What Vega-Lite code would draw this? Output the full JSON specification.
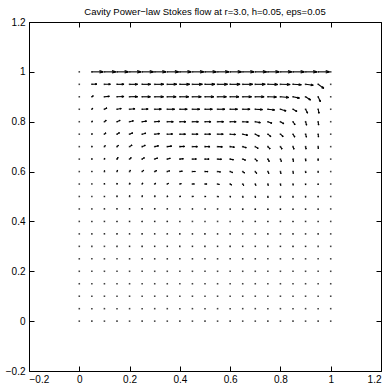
{
"$schema": "https://vega.github.io/schema/vega-lite/v6.json",
"width": 352, "height": 349,
"autosize": {"type": "none"},
"padding": {"left": 29, "top": 22, "right": 5, "bottom": 14},
"title": {"text": "Cavity Power\u2212law Stokes flow at r=3.0, h=0.05, eps=0.05", "fontSize": 9.5, "fontWeight": "normal", "font": "Liberation Sans", "offset": 4, "dy": 3, "color": "black"},
"config": {
 "view": {"stroke": "black", "strokeWidth": 1},
 "axis": {"grid": false, "domain": false, "tickColor": "black", "tickSize": -5, "labelColor": "black", "labelFont": "Liberation Sans", "labelFontSize": 10, "values": [-0.2, 0, 0.2, 0.4, 0.6, 0.8, 1, 1.2], "format": "~g", "title": null},
 "axisBottom": {"labelPadding": 8},
 "axisLeft": {"labelPadding": 9}
},
"data": {"values": [
{"x":0,"y":1,"u":0,"v":0},{"x":0.05,"y":1,"u":1,"v":0},{"x":0.1,"y":1,"u":1,"v":0},{"x":0.15,"y":1,"u":1,"v":0},{"x":0.2,"y":1,"u":1,"v":0},{"x":0.25,"y":1,"u":1,"v":0},{"x":0.3,"y":1,"u":1,"v":0},{"x":0.35,"y":1,"u":1,"v":0},{"x":0.4,"y":1,"u":1,"v":0},{"x":0.45,"y":1,"u":1,"v":0},{"x":0.5,"y":1,"u":1,"v":0},{"x":0.55,"y":1,"u":1,"v":0},{"x":0.6,"y":1,"u":1,"v":0},{"x":0.65,"y":1,"u":1,"v":0},{"x":0.7,"y":1,"u":1,"v":0},{"x":0.75,"y":1,"u":1,"v":0},{"x":0.8,"y":1,"u":1,"v":0},{"x":0.85,"y":1,"u":1,"v":0},{"x":0.9,"y":1,"u":1,"v":0},{"x":0.95,"y":1,"u":1,"v":0},{"x":1,"y":1,"u":0,"v":0},
{"x":0,"y":0.95,"u":0,"v":0},{"x":0.05,"y":0.95,"u":0.44,"v":0.02},{"x":0.1,"y":0.95,"u":0.53,"v":0.01},{"x":0.15,"y":0.95,"u":0.62,"v":0},{"x":0.2,"y":0.95,"u":0.71,"v":0},{"x":0.25,"y":0.95,"u":0.75,"v":0},{"x":0.3,"y":0.95,"u":0.8,"v":0},{"x":0.35,"y":0.95,"u":0.84,"v":0},{"x":0.4,"y":0.95,"u":0.87,"v":0},{"x":0.45,"y":0.95,"u":0.88,"v":0},{"x":0.5,"y":0.95,"u":0.88,"v":0},{"x":0.55,"y":0.95,"u":0.88,"v":0},{"x":0.6,"y":0.95,"u":0.88,"v":0},{"x":0.65,"y":0.95,"u":0.88,"v":0},{"x":0.7,"y":0.95,"u":0.88,"v":0},{"x":0.75,"y":0.95,"u":0.88,"v":-0.01},{"x":0.8,"y":0.95,"u":0.86,"v":-0.02},{"x":0.85,"y":0.95,"u":0.74,"v":-0.04},{"x":0.9,"y":0.95,"u":0.68,"v":-0.08},{"x":0.95,"y":0.95,"u":0.5,"v":-0.36},{"x":1,"y":0.95,"u":0,"v":0},
{"x":0,"y":0.9,"u":0,"v":0},{"x":0.05,"y":0.9,"u":0.13,"v":0.1},{"x":0.1,"y":0.9,"u":0.44,"v":0.04},{"x":0.15,"y":0.9,"u":0.62,"v":0.02},{"x":0.2,"y":0.9,"u":0.71,"v":0.01},{"x":0.25,"y":0.9,"u":0.73,"v":0},{"x":0.3,"y":0.9,"u":0.78,"v":0},{"x":0.35,"y":0.9,"u":0.78,"v":0},{"x":0.4,"y":0.9,"u":0.78,"v":0},{"x":0.45,"y":0.9,"u":0.78,"v":0},{"x":0.5,"y":0.9,"u":0.78,"v":0},{"x":0.55,"y":0.9,"u":0.78,"v":0},{"x":0.6,"y":0.9,"u":0.78,"v":0},{"x":0.65,"y":0.9,"u":0.78,"v":0},{"x":0.7,"y":0.9,"u":0.78,"v":0},{"x":0.75,"y":0.9,"u":0.76,"v":-0.02},{"x":0.8,"y":0.9,"u":0.74,"v":-0.06},{"x":0.85,"y":0.9,"u":0.57,"v":-0.12},{"x":0.9,"y":0.9,"u":0.44,"v":-0.29},{"x":0.95,"y":0.9,"u":0.2,"v":-0.44},{"x":1,"y":0.9,"u":0,"v":0},
{"x":0,"y":0.85,"u":0,"v":0},{"x":0.05,"y":0.85,"u":0.08,"v":0.1},{"x":0.1,"y":0.85,"u":0.22,"v":0.12},{"x":0.15,"y":0.85,"u":0.38,"v":0.07},{"x":0.2,"y":0.85,"u":0.48,"v":0.04},{"x":0.25,"y":0.85,"u":0.53,"v":0.02},{"x":0.3,"y":0.85,"u":0.58,"v":0.01},{"x":0.35,"y":0.85,"u":0.65,"v":0},{"x":0.4,"y":0.85,"u":0.65,"v":0},{"x":0.45,"y":0.85,"u":0.65,"v":0},{"x":0.5,"y":0.85,"u":0.65,"v":0},{"x":0.55,"y":0.85,"u":0.65,"v":0},{"x":0.6,"y":0.85,"u":0.65,"v":0},{"x":0.65,"y":0.85,"u":0.65,"v":0},{"x":0.7,"y":0.85,"u":0.64,"v":-0.03},{"x":0.75,"y":0.85,"u":0.6,"v":-0.07},{"x":0.8,"y":0.85,"u":0.5,"v":-0.15},{"x":0.85,"y":0.85,"u":0.35,"v":-0.2},{"x":0.9,"y":0.85,"u":0.18,"v":-0.35},{"x":0.95,"y":0.85,"u":0.08,"v":-0.36},{"x":1,"y":0.85,"u":0,"v":0},
{"x":0,"y":0.8,"u":0,"v":0},{"x":0.05,"y":0.8,"u":0.05,"v":0.07},{"x":0.1,"y":0.8,"u":0.16,"v":0.13},{"x":0.15,"y":0.8,"u":0.28,"v":0.12},{"x":0.2,"y":0.8,"u":0.34,"v":0.08},{"x":0.25,"y":0.8,"u":0.39,"v":0.05},{"x":0.3,"y":0.8,"u":0.44,"v":0.03},{"x":0.35,"y":0.8,"u":0.53,"v":0},{"x":0.4,"y":0.8,"u":0.53,"v":0},{"x":0.45,"y":0.8,"u":0.53,"v":0},{"x":0.5,"y":0.8,"u":0.53,"v":0},{"x":0.55,"y":0.8,"u":0.53,"v":0},{"x":0.6,"y":0.8,"u":0.53,"v":0},{"x":0.65,"y":0.8,"u":0.5,"v":-0.03},{"x":0.7,"y":0.8,"u":0.45,"v":-0.08},{"x":0.75,"y":0.8,"u":0.36,"v":-0.14},{"x":0.8,"y":0.8,"u":0.3,"v":-0.18},{"x":0.85,"y":0.8,"u":0.18,"v":-0.27},{"x":0.9,"y":0.8,"u":0.09,"v":-0.31},{"x":0.95,"y":0.8,"u":0.04,"v":-0.3},{"x":1,"y":0.8,"u":0,"v":0},
{"x":0,"y":0.75,"u":0,"v":0},{"x":0.05,"y":0.75,"u":0.03,"v":0.06},{"x":0.1,"y":0.75,"u":0.13,"v":0.12},{"x":0.15,"y":0.75,"u":0.22,"v":0.14},{"x":0.2,"y":0.75,"u":0.28,"v":0.12},{"x":0.25,"y":0.75,"u":0.33,"v":0.09},{"x":0.3,"y":0.75,"u":0.42,"v":0.05},{"x":0.35,"y":0.75,"u":0.47,"v":0.02},{"x":0.4,"y":0.75,"u":0.5,"v":0},{"x":0.45,"y":0.75,"u":0.5,"v":0},{"x":0.5,"y":0.75,"u":0.5,"v":0},{"x":0.55,"y":0.75,"u":0.5,"v":0},{"x":0.6,"y":0.75,"u":0.48,"v":-0.03},{"x":0.65,"y":0.75,"u":0.44,"v":-0.09},{"x":0.7,"y":0.75,"u":0.36,"v":-0.18},{"x":0.75,"y":0.75,"u":0.27,"v":-0.22},{"x":0.8,"y":0.75,"u":0.24,"v":-0.22},{"x":0.85,"y":0.75,"u":0.16,"v":-0.26},{"x":0.9,"y":0.75,"u":0.08,"v":-0.27},{"x":0.95,"y":0.75,"u":0.03,"v":-0.26},{"x":1,"y":0.75,"u":0,"v":0},
{"x":0,"y":0.7,"u":0,"v":0},{"x":0.05,"y":0.7,"u":0.02,"v":0.05},{"x":0.1,"y":0.7,"u":0.08,"v":0.1},{"x":0.15,"y":0.7,"u":0.13,"v":0.12},{"x":0.2,"y":0.7,"u":0.22,"v":0.14},{"x":0.25,"y":0.7,"u":0.28,"v":0.12},{"x":0.3,"y":0.7,"u":0.34,"v":0.08},{"x":0.35,"y":0.7,"u":0.39,"v":0.05},{"x":0.4,"y":0.7,"u":0.42,"v":0.02},{"x":0.45,"y":0.7,"u":0.44,"v":0},{"x":0.5,"y":0.7,"u":0.44,"v":0},{"x":0.55,"y":0.7,"u":0.42,"v":-0.02},{"x":0.6,"y":0.7,"u":0.38,"v":-0.05},{"x":0.65,"y":0.7,"u":0.32,"v":-0.1},{"x":0.7,"y":0.7,"u":0.26,"v":-0.16},{"x":0.75,"y":0.7,"u":0.2,"v":-0.2},{"x":0.8,"y":0.7,"u":0.14,"v":-0.22},{"x":0.85,"y":0.7,"u":0.09,"v":-0.23},{"x":0.9,"y":0.7,"u":0.05,"v":-0.22},{"x":0.95,"y":0.7,"u":0.02,"v":-0.18},{"x":1,"y":0.7,"u":0,"v":0},
{"x":0,"y":0.65,"u":0,"v":0},{"x":0.05,"y":0.65,"u":0.01,"v":0.04},{"x":0.1,"y":0.65,"u":0.02,"v":0.09},{"x":0.15,"y":0.65,"u":0.1,"v":0.15},{"x":0.2,"y":0.65,"u":0.15,"v":0.14},{"x":0.25,"y":0.65,"u":0.2,"v":0.13},{"x":0.3,"y":0.65,"u":0.26,"v":0.1},{"x":0.35,"y":0.65,"u":0.27,"v":0.08},{"x":0.4,"y":0.65,"u":0.31,"v":0.04},{"x":0.45,"y":0.65,"u":0.35,"v":0.01},{"x":0.5,"y":0.65,"u":0.36,"v":0},{"x":0.55,"y":0.65,"u":0.35,"v":-0.02},{"x":0.6,"y":0.65,"u":0.3,"v":-0.06},{"x":0.65,"y":0.65,"u":0.25,"v":-0.1},{"x":0.7,"y":0.65,"u":0.18,"v":-0.18},{"x":0.75,"y":0.65,"u":0.13,"v":-0.22},{"x":0.8,"y":0.65,"u":0.09,"v":-0.22},{"x":0.85,"y":0.65,"u":0.04,"v":-0.22},{"x":0.9,"y":0.65,"u":0.02,"v":-0.18},{"x":0.95,"y":0.65,"u":0,"v":-0.13},{"x":1,"y":0.65,"u":0,"v":0},
{"x":0,"y":0.6,"u":0,"v":0},{"x":0.05,"y":0.6,"u":0,"v":0.03},{"x":0.1,"y":0.6,"u":0.01,"v":0.09},{"x":0.15,"y":0.6,"u":0.05,"v":0.13},{"x":0.2,"y":0.6,"u":0.08,"v":0.13},{"x":0.25,"y":0.6,"u":0.14,"v":0.12},{"x":0.3,"y":0.6,"u":0.17,"v":0.1},{"x":0.35,"y":0.6,"u":0.21,"v":0.07},{"x":0.4,"y":0.6,"u":0.22,"v":0.04},{"x":0.45,"y":0.6,"u":0.26,"v":0.01},{"x":0.5,"y":0.6,"u":0.27,"v":0},{"x":0.55,"y":0.6,"u":0.26,"v":-0.04},{"x":0.6,"y":0.6,"u":0.22,"v":-0.09},{"x":0.65,"y":0.6,"u":0.17,"v":-0.13},{"x":0.7,"y":0.6,"u":0.13,"v":-0.17},{"x":0.75,"y":0.6,"u":0.09,"v":-0.18},{"x":0.8,"y":0.6,"u":0.05,"v":-0.18},{"x":0.85,"y":0.6,"u":0.03,"v":-0.17},{"x":0.9,"y":0.6,"u":0.02,"v":-0.13},{"x":0.95,"y":0.6,"u":0,"v":-0.09},{"x":1,"y":0.6,"u":0,"v":0},
{"x":0,"y":0.55,"u":0,"v":0},{"x":0.05,"y":0.55,"u":0,"v":0.02},{"x":0.1,"y":0.55,"u":0,"v":0.06},{"x":0.15,"y":0.55,"u":0.02,"v":0.09},{"x":0.2,"y":0.55,"u":0.04,"v":0.1},{"x":0.25,"y":0.55,"u":0.06,"v":0.1},{"x":0.3,"y":0.55,"u":0.09,"v":0.08},{"x":0.35,"y":0.55,"u":0.12,"v":0.06},{"x":0.4,"y":0.55,"u":0.13,"v":0.04},{"x":0.45,"y":0.55,"u":0.17,"v":0.01},{"x":0.5,"y":0.55,"u":0.18,"v":0},{"x":0.55,"y":0.55,"u":0.16,"v":-0.04},{"x":0.6,"y":0.55,"u":0.13,"v":-0.09},{"x":0.65,"y":0.55,"u":0.09,"v":-0.13},{"x":0.7,"y":0.55,"u":0.06,"v":-0.13},{"x":0.75,"y":0.55,"u":0.04,"v":-0.13},{"x":0.8,"y":0.55,"u":0.03,"v":-0.13},{"x":0.85,"y":0.55,"u":0.02,"v":-0.11},{"x":0.9,"y":0.55,"u":0,"v":-0.09},{"x":0.95,"y":0.55,"u":0,"v":-0.07},{"x":1,"y":0.55,"u":0,"v":0},
{"x":0,"y":0.5,"u":0,"v":0},{"x":0.05,"y":0.5,"u":0,"v":0.01},{"x":0.1,"y":0.5,"u":0,"v":0.04},{"x":0.15,"y":0.5,"u":0,"v":0.07},{"x":0.2,"y":0.5,"u":0.01,"v":0.08},{"x":0.25,"y":0.5,"u":0.02,"v":0.08},{"x":0.3,"y":0.5,"u":0.03,"v":0.07},{"x":0.35,"y":0.5,"u":0.05,"v":0.05},{"x":0.4,"y":0.5,"u":0.07,"v":0.03},{"x":0.45,"y":0.5,"u":0.08,"v":0.01},{"x":0.5,"y":0.5,"u":0.09,"v":0},{"x":0.55,"y":0.5,"u":0.09,"v":-0.02},{"x":0.6,"y":0.5,"u":0.05,"v":-0.05},{"x":0.65,"y":0.5,"u":0.03,"v":-0.09},{"x":0.7,"y":0.5,"u":0.02,"v":-0.1},{"x":0.75,"y":0.5,"u":0.01,"v":-0.1},{"x":0.8,"y":0.5,"u":0,"v":-0.09},{"x":0.85,"y":0.5,"u":0,"v":-0.08},{"x":0.9,"y":0.5,"u":0,"v":-0.07},{"x":0.95,"y":0.5,"u":0,"v":-0.05},{"x":1,"y":0.5,"u":0,"v":0},
{"x":0,"y":0.45,"u":0,"v":0},{"x":0.05,"y":0.45,"u":0,"v":0.01},{"x":0.1,"y":0.45,"u":0,"v":0.03},{"x":0.15,"y":0.45,"u":-0.01,"v":0.05},{"x":0.2,"y":0.45,"u":-0.01,"v":0.06},{"x":0.25,"y":0.45,"u":-0.01,"v":0.06},{"x":0.3,"y":0.45,"u":0,"v":0.05},{"x":0.35,"y":0.45,"u":0.01,"v":0.04},{"x":0.4,"y":0.45,"u":0.02,"v":0.02},{"x":0.45,"y":0.45,"u":0.03,"v":0.01},{"x":0.5,"y":0.45,"u":0.03,"v":0},{"x":0.55,"y":0.45,"u":0.03,"v":-0.01},{"x":0.6,"y":0.45,"u":0.02,"v":-0.03},{"x":0.65,"y":0.45,"u":0.01,"v":-0.05},{"x":0.7,"y":0.45,"u":0,"v":-0.06},{"x":0.75,"y":0.45,"u":0,"v":-0.07},{"x":0.8,"y":0.45,"u":0,"v":-0.06},{"x":0.85,"y":0.45,"u":0,"v":-0.05},{"x":0.9,"y":0.45,"u":0,"v":-0.04},{"x":0.95,"y":0.45,"u":0,"v":-0.03},{"x":1,"y":0.45,"u":0,"v":0},
{"x":0,"y":0.4,"u":0,"v":0},{"x":0.05,"y":0.4,"u":0,"v":0.01},{"x":0.1,"y":0.4,"u":0,"v":0.02},{"x":0.15,"y":0.4,"u":-0.01,"v":0.03},{"x":0.2,"y":0.4,"u":-0.01,"v":0.03},{"x":0.25,"y":0.4,"u":-0.02,"v":0.03},{"x":0.3,"y":0.4,"u":-0.01,"v":0.03},{"x":0.35,"y":0.4,"u":-0.01,"v":0.02},{"x":0.4,"y":0.4,"u":0,"v":0.01},{"x":0.45,"y":0.4,"u":0,"v":0},{"x":0.5,"y":0.4,"u":0,"v":0},{"x":0.55,"y":0.4,"u":0,"v":0},{"x":0.6,"y":0.4,"u":0,"v":-0.01},{"x":0.65,"y":0.4,"u":0,"v":-0.02},{"x":0.7,"y":0.4,"u":0,"v":-0.03},{"x":0.75,"y":0.4,"u":0,"v":-0.03},{"x":0.8,"y":0.4,"u":0,"v":-0.03},{"x":0.85,"y":0.4,"u":0,"v":-0.03},{"x":0.9,"y":0.4,"u":0,"v":-0.02},{"x":0.95,"y":0.4,"u":0,"v":-0.02},{"x":1,"y":0.4,"u":0,"v":0},
{"x":0,"y":0.35,"u":0,"v":0},{"x":0.05,"y":0.35,"u":0,"v":0},{"x":0.1,"y":0.35,"u":0,"v":0.01},{"x":0.15,"y":0.35,"u":-0.01,"v":0.02},{"x":0.2,"y":0.35,"u":-0.02,"v":0.02},{"x":0.25,"y":0.35,"u":-0.02,"v":0.02},{"x":0.3,"y":0.35,"u":-0.02,"v":0.02},{"x":0.35,"y":0.35,"u":-0.02,"v":0.02},{"x":0.4,"y":0.35,"u":-0.02,"v":0},{"x":0.45,"y":0.35,"u":-0.02,"v":0},{"x":0.5,"y":0.35,"u":-0.02,"v":0},{"x":0.55,"y":0.35,"u":-0.02,"v":0},{"x":0.6,"y":0.35,"u":-0.01,"v":-0.01},{"x":0.65,"y":0.35,"u":-0.01,"v":-0.01},{"x":0.7,"y":0.35,"u":-0.01,"v":-0.01},{"x":0.75,"y":0.35,"u":-0.01,"v":-0.01},{"x":0.8,"y":0.35,"u":0,"v":-0.02},{"x":0.85,"y":0.35,"u":0,"v":-0.02},{"x":0.9,"y":0.35,"u":0,"v":-0.02},{"x":0.95,"y":0.35,"u":0,"v":-0.02},{"x":1,"y":0.35,"u":0,"v":0},
{"x":0,"y":0.3,"u":0,"v":0},{"x":0.05,"y":0.3,"u":0,"v":0},{"x":0.1,"y":0.3,"u":0,"v":0.01},{"x":0.15,"y":0.3,"u":-0.01,"v":0.01},{"x":0.2,"y":0.3,"u":-0.02,"v":0},{"x":0.25,"y":0.3,"u":-0.02,"v":0},{"x":0.3,"y":0.3,"u":-0.02,"v":0},{"x":0.35,"y":0.3,"u":-0.02,"v":0},{"x":0.4,"y":0.3,"u":-0.02,"v":0},{"x":0.45,"y":0.3,"u":-0.02,"v":0},{"x":0.5,"y":0.3,"u":-0.02,"v":0},{"x":0.55,"y":0.3,"u":-0.02,"v":0},{"x":0.6,"y":0.3,"u":-0.02,"v":0},{"x":0.65,"y":0.3,"u":-0.02,"v":0},{"x":0.7,"y":0.3,"u":-0.02,"v":0},{"x":0.75,"y":0.3,"u":-0.01,"v":0},{"x":0.8,"y":0.3,"u":0,"v":-0.01},{"x":0.85,"y":0.3,"u":0,"v":-0.01},{"x":0.9,"y":0.3,"u":0,"v":-0.01},{"x":0.95,"y":0.3,"u":0,"v":0},{"x":1,"y":0.3,"u":0,"v":0},
{"x":0,"y":0.25,"u":0,"v":0},{"x":0.05,"y":0.25,"u":0,"v":0},{"x":0.1,"y":0.25,"u":0,"v":0},{"x":0.15,"y":0.25,"u":0,"v":0},{"x":0.2,"y":0.25,"u":-0.01,"v":0},{"x":0.25,"y":0.25,"u":-0.01,"v":0},{"x":0.3,"y":0.25,"u":-0.01,"v":0},{"x":0.35,"y":0.25,"u":-0.01,"v":0},{"x":0.4,"y":0.25,"u":-0.01,"v":0},{"x":0.45,"y":0.25,"u":-0.01,"v":0},{"x":0.5,"y":0.25,"u":-0.01,"v":0},{"x":0.55,"y":0.25,"u":-0.01,"v":0},{"x":0.6,"y":0.25,"u":-0.01,"v":0},{"x":0.65,"y":0.25,"u":-0.01,"v":0},{"x":0.7,"y":0.25,"u":-0.01,"v":0},{"x":0.75,"y":0.25,"u":0,"v":0},{"x":0.8,"y":0.25,"u":0,"v":0},{"x":0.85,"y":0.25,"u":0,"v":0},{"x":0.9,"y":0.25,"u":0,"v":0},{"x":0.95,"y":0.25,"u":0,"v":0},{"x":1,"y":0.25,"u":0,"v":0},
{"x":0,"y":0.2,"u":0,"v":0},{"x":0.05,"y":0.2,"u":0,"v":0},{"x":0.1,"y":0.2,"u":0,"v":0},{"x":0.15,"y":0.2,"u":0,"v":0},{"x":0.2,"y":0.2,"u":0,"v":0},{"x":0.25,"y":0.2,"u":0,"v":0},{"x":0.3,"y":0.2,"u":0,"v":0},{"x":0.35,"y":0.2,"u":0,"v":0},{"x":0.4,"y":0.2,"u":0,"v":0},{"x":0.45,"y":0.2,"u":0,"v":0},{"x":0.5,"y":0.2,"u":0,"v":0},{"x":0.55,"y":0.2,"u":0,"v":0},{"x":0.6,"y":0.2,"u":0,"v":0},{"x":0.65,"y":0.2,"u":0,"v":0},{"x":0.7,"y":0.2,"u":0,"v":0},{"x":0.75,"y":0.2,"u":0,"v":0},{"x":0.8,"y":0.2,"u":0,"v":0},{"x":0.85,"y":0.2,"u":0,"v":0},{"x":0.9,"y":0.2,"u":0,"v":0},{"x":0.95,"y":0.2,"u":0,"v":0},{"x":1,"y":0.2,"u":0,"v":0},
{"x":0,"y":0.15,"u":0,"v":0},{"x":0.05,"y":0.15,"u":0,"v":0},{"x":0.1,"y":0.15,"u":0,"v":0},{"x":0.15,"y":0.15,"u":0,"v":0},{"x":0.2,"y":0.15,"u":0,"v":0},{"x":0.25,"y":0.15,"u":0,"v":0},{"x":0.3,"y":0.15,"u":0,"v":0},{"x":0.35,"y":0.15,"u":0,"v":0},{"x":0.4,"y":0.15,"u":0,"v":0},{"x":0.45,"y":0.15,"u":0,"v":0},{"x":0.5,"y":0.15,"u":0,"v":0},{"x":0.55,"y":0.15,"u":0,"v":0},{"x":0.6,"y":0.15,"u":0,"v":0},{"x":0.65,"y":0.15,"u":0,"v":0},{"x":0.7,"y":0.15,"u":0,"v":0},{"x":0.75,"y":0.15,"u":0,"v":0},{"x":0.8,"y":0.15,"u":0,"v":0},{"x":0.85,"y":0.15,"u":0,"v":0},{"x":0.9,"y":0.15,"u":0,"v":0},{"x":0.95,"y":0.15,"u":0,"v":0},{"x":1,"y":0.15,"u":0,"v":0},
{"x":0,"y":0.1,"u":0,"v":0},{"x":0.05,"y":0.1,"u":0,"v":0},{"x":0.1,"y":0.1,"u":0,"v":0},{"x":0.15,"y":0.1,"u":0,"v":0},{"x":0.2,"y":0.1,"u":0,"v":0},{"x":0.25,"y":0.1,"u":0,"v":0},{"x":0.3,"y":0.1,"u":0,"v":0},{"x":0.35,"y":0.1,"u":0,"v":0},{"x":0.4,"y":0.1,"u":0,"v":0},{"x":0.45,"y":0.1,"u":0,"v":0},{"x":0.5,"y":0.1,"u":0,"v":0},{"x":0.55,"y":0.1,"u":0,"v":0},{"x":0.6,"y":0.1,"u":0,"v":0},{"x":0.65,"y":0.1,"u":0,"v":0},{"x":0.7,"y":0.1,"u":0,"v":0},{"x":0.75,"y":0.1,"u":0,"v":0},{"x":0.8,"y":0.1,"u":0,"v":0},{"x":0.85,"y":0.1,"u":0,"v":0},{"x":0.9,"y":0.1,"u":0,"v":0},{"x":0.95,"y":0.1,"u":0,"v":0},{"x":1,"y":0.1,"u":0,"v":0},
{"x":0,"y":0.05,"u":0,"v":0},{"x":0.05,"y":0.05,"u":0,"v":0},{"x":0.1,"y":0.05,"u":0,"v":0},{"x":0.15,"y":0.05,"u":0,"v":0},{"x":0.2,"y":0.05,"u":0,"v":0},{"x":0.25,"y":0.05,"u":0,"v":0},{"x":0.3,"y":0.05,"u":0,"v":0},{"x":0.35,"y":0.05,"u":0,"v":0},{"x":0.4,"y":0.05,"u":0,"v":0},{"x":0.45,"y":0.05,"u":0,"v":0},{"x":0.5,"y":0.05,"u":0,"v":0},{"x":0.55,"y":0.05,"u":0,"v":0},{"x":0.6,"y":0.05,"u":0,"v":0},{"x":0.65,"y":0.05,"u":0,"v":0},{"x":0.7,"y":0.05,"u":0,"v":0},{"x":0.75,"y":0.05,"u":0,"v":0},{"x":0.8,"y":0.05,"u":0,"v":0},{"x":0.85,"y":0.05,"u":0,"v":0},{"x":0.9,"y":0.05,"u":0,"v":0},{"x":0.95,"y":0.05,"u":0,"v":0},{"x":1,"y":0.05,"u":0,"v":0},
{"x":0,"y":0,"u":0,"v":0},{"x":0.05,"y":0,"u":0,"v":0},{"x":0.1,"y":0,"u":0,"v":0},{"x":0.15,"y":0,"u":0,"v":0},{"x":0.2,"y":0,"u":0,"v":0},{"x":0.25,"y":0,"u":0,"v":0},{"x":0.3,"y":0,"u":0,"v":0},{"x":0.35,"y":0,"u":0,"v":0},{"x":0.4,"y":0,"u":0,"v":0},{"x":0.45,"y":0,"u":0,"v":0},{"x":0.5,"y":0,"u":0,"v":0},{"x":0.55,"y":0,"u":0,"v":0},{"x":0.6,"y":0,"u":0,"v":0},{"x":0.65,"y":0,"u":0,"v":0},{"x":0.7,"y":0,"u":0,"v":0},{"x":0.75,"y":0,"u":0,"v":0},{"x":0.8,"y":0,"u":0,"v":0},{"x":0.85,"y":0,"u":0,"v":0},{"x":0.9,"y":0,"u":0,"v":0},{"x":0.95,"y":0,"u":0,"v":0},{"x":1,"y":0,"u":0,"v":0}
]},
"transform": [
 {"calculate": "datum.x + 0.045*datum.u", "as": "xe"},
 {"calculate": "datum.y + 0.045*datum.v", "as": "ye"},
 {"calculate": "datum.xe - 0.33*0.045*(datum.u + 0.33*datum.v)", "as": "h1x"},
 {"calculate": "datum.ye - 0.33*0.045*(datum.v - 0.33*datum.u)", "as": "h1y"},
 {"calculate": "datum.xe - 0.33*0.045*(datum.u - 0.33*datum.v)", "as": "h2x"},
 {"calculate": "datum.ye - 0.33*0.045*(datum.v + 0.33*datum.u)", "as": "h2y"}
],
"layer": [
 {
  "mark": {"type": "point", "shape": "square", "filled": true, "size": 2.5, "color": "#444", "opacity": 1},
  "encoding": {
   "x": {"field": "x", "type": "quantitative", "scale": {"domain": [-0.2, 1.2], "nice": false, "zero": false}, "axis": {"orient": "bottom"}},
   "y": {"field": "y", "type": "quantitative", "scale": {"domain": [-0.2, 1.2], "nice": false, "zero": false}, "axis": {"orient": "left"}}
  }
 },
 {
  "transform": [{"filter": "datum.u != 0 || datum.v != 0"}],
  "mark": {"type": "rule", "color": "black", "strokeWidth": 1.1},
  "encoding": {
   "x": {"field": "x", "type": "quantitative", "axis": {"orient": "top", "labels": false}},
   "y": {"field": "y", "type": "quantitative", "axis": {"orient": "right", "labels": false}},
   "x2": {"field": "xe"}, "y2": {"field": "ye"}
  }
 },
 {
  "transform": [{"filter": "datum.u != 0 || datum.v != 0"}],
  "mark": {"type": "rule", "color": "black", "strokeWidth": 1.1},
  "encoding": {
   "x": {"field": "h1x", "type": "quantitative", "axis": null},
   "y": {"field": "h1y", "type": "quantitative", "axis": null},
   "x2": {"field": "xe"}, "y2": {"field": "ye"}
  }
 },
 {
  "transform": [{"filter": "datum.u != 0 || datum.v != 0"}],
  "mark": {"type": "rule", "color": "black", "strokeWidth": 1.1},
  "encoding": {
   "x": {"field": "h2x", "type": "quantitative", "axis": null},
   "y": {"field": "h2y", "type": "quantitative", "axis": null},
   "x2": {"field": "xe"}, "y2": {"field": "ye"}
  }
 }
],
"resolve": {"axis": {"x": "independent", "y": "independent"}}
}
